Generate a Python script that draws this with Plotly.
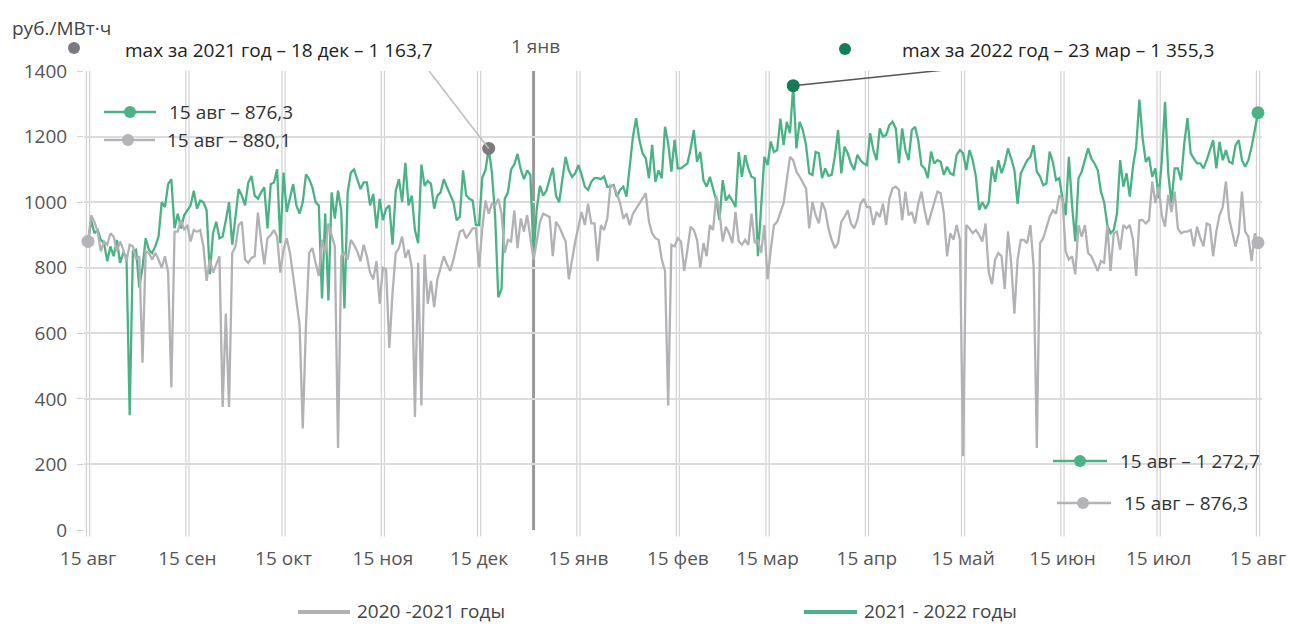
import plotly.graph_objects as go
import pandas as pd

# ---------------- data ----------------
start_date = "2021-08-15"
n_days = 366

# 2021-2022 (green), daily, 15 Aug 2021 .. 15 Aug 2022
green_1 = [876.3, 945, 905, 915, 885, 875, 820, 865, 835, 885, 815, 845, 835, 350, 850, 855, 740, 800, 890, 855,
           845, 865, 895, 1000, 985, 1055, 1070, 920, 965, 920, 960, 975, 990, 1035, 980, 1005, 1000, 975, 780, 905,
           940, 890, 895, 945, 1000]
green_2 = [870, 960, 1040, 1020, 990, 1060, 1080, 1020, 1010, 1030, 1045, 920, 1055, 1060, 1100, 875, 1090, 970, 1010,
           1055, 990, 965, 1000, 1085, 1070, 1045, 1000, 990, 706, 965, 700, 1030, 950, 1035, 975, 676, 1030, 1090,
           1100, 1070, 1040, 1060, 1060, 990, 1025, 920, 1010]
green_3 = [945, 980, 990, 870, 1035, 1070, 1000, 1120, 990, 1020, 915, 875, 1115, 1050, 1065, 1055, 980, 1020, 1030,
           1070, 1045, 1020, 1000, 945, 955, 1097, 1020, 1010, 1005, 930, 930, 1075, 1097, 1163.7, 1090, 960, 710, 735,
           1010, 1030, 1100, 1115, 1147, 1100, 1070, 1097]
green_4 = [1083, 840, 980, 1050, 1020, 1035, 1070, 1105, 1020, 1000, 1070, 1138, 1097, 1077, 1088, 1113, 1083, 1047,
           1037, 1062, 1073, 1073, 1070, 1078, 1047, 1047, 1052, 1017, 1037, 1047, 1017, 1108, 1200, 1256, 1190, 1149,
           1134, 1073, 1175, 1062, 1097, 1073, 1230, 1180, 1093, 1190, 1103]
green_5 = [1103, 1110, 1118, 1163, 1220, 1123, 1153, 1067, 1047, 1077, 1037, 1005, 945, 1067, 1005, 1020, 1005, 985,
           1153, 1077, 1143, 1103, 1077, 1073, 835, 1000, 1138, 1113, 1185, 1153, 1159, 1255, 1174, 1245, 1210, 1355.3,
           1164, 1245, 1220, 1174, 1088, 1083, 1153, 1149, 1073, 1103, 1080]
green_6 = [1083, 1140, 1220, 1088, 1169, 1149, 1118, 1098, 1144, 1128, 1118, 1113, 1210, 1159, 1128, 1225, 1200, 1205,
           1235, 1245, 1225, 1118, 1225, 1159, 1128, 1220, 1230, 1189, 1113, 1103, 1073, 1154, 1118, 1128, 1123, 1083,
           1108, 1088, 1083, 1144, 1159, 1149, 1098, 1159, 1128, 1078, 976]
green_7 = [1000, 980, 1000, 1108, 1062, 1128, 1088, 1118, 1164, 1133, 1098, 995, 1088, 1108, 1128, 1138, 1174, 1093,
           1078, 1052, 1057, 1154, 1123, 1067, 1073, 1012, 960, 1138, 990, 880, 1073, 1093, 1128, 1164, 1133, 1118,
           1098, 1032, 1000, 930, 905, 915, 965, 1128, 1047, 1088, 1017]
green_8 = [1108, 1169, 1313, 1195, 1123, 1138, 1077, 1103, 1012, 1128, 1306, 1088, 997, 1103, 1103, 1067, 1179, 1256,
           1149, 1133, 1118, 1118, 1103, 1128, 1159, 1189, 1103, 1184, 1128, 1159, 1123, 1118, 1174, 1189, 1128, 1108,
           1128, 1169, 1220, 1272.7]

# 2020-2021 (grey), daily, 15 Aug 2020 .. 15 Aug 2021
gray_1 = [880.1, 960, 940, 910, 850, 880, 870, 905, 895, 850, 880, 855, 820, 870, 865, 825, 835, 510, 850, 845, 825,
          845, 825, 800, 835, 785, 435, 910, 910, 945, 915, 930, 880, 915, 910, 915, 865, 760, 825, 785, 810, 835, 375,
          660, 375]
gray_2 = [845, 865, 930, 940, 825, 815, 830, 835, 968, 885, 810, 890, 900, 915, 895, 785, 855, 890, 845, 775, 705, 625,
          310, 625, 845, 860, 815, 775, 885, 845, 935, 900, 865, 250, 835, 845, 825, 885, 870, 850, 820, 870, 835, 785,
          765, 820, 690]
gray_3 = [800, 795, 555, 722, 845, 860, 895, 830, 855, 800, 345, 815, 380, 840, 690, 760, 680, 765, 800, 835, 810, 790,
          825, 870, 910, 915, 890, 905, 920, 920, 800, 920, 1005, 965, 995, 990, 1010, 965, 845, 885, 880, 975, 860,
          950, 910, 960]
gray_4 = [885, 825, 880, 940, 965, 960, 955, 835, 940, 925, 900, 880, 765, 825, 880, 925, 970, 930, 995, 935, 935, 820,
          930, 915, 950, 1052, 1047, 1027, 997, 950, 965, 930, 965, 980, 997, 1012, 1027, 940, 905, 890, 885, 825, 790,
          380, 870, 865, 890]
gray_5 = [880, 790, 855, 925, 915, 885, 800, 875, 835, 930, 915, 1020, 970, 880, 925, 905, 875, 970, 880, 870, 885, 870,
          965, 875, 885, 845, 930, 765, 855, 930, 940, 970, 997, 1068, 1138, 1128, 1093, 1078, 1062, 1042, 920, 1000,
          960, 935, 1000, 975, 920]
gray_6 = [885, 860, 875, 940, 955, 975, 935, 920, 945, 995, 1010, 985, 985, 930, 970, 955, 995, 930, 1010, 1042, 1047,
          1037, 945, 1032, 960, 970, 935, 995, 1032, 975, 930, 965, 995, 1032, 1027, 965, 835, 905, 885, 930, 885, 225,
          930, 920, 905, 915, 900]
gray_7 = [880, 935, 785, 750, 825, 845, 835, 735, 910, 815, 660, 825, 885, 885, 875, 930, 805, 250, 875, 890, 925, 955,
          975, 965, 1020, 1010, 850, 825, 835, 780, 930, 895, 930, 845, 835, 815, 790, 820, 815, 930, 790, 905, 910,
          855, 930, 920, 930]
gray_8 = [885, 775, 945, 945, 935, 945, 1063, 997, 1047, 960, 925, 1022, 970, 1032, 920, 905, 910, 910, 915, 865, 925,
          890, 865, 935, 930, 835, 910, 960, 985, 1063, 950, 910, 865, 905, 1032, 910, 895, 820, 905, 876.3]

tick_dates = ["2021-08-15", "2021-09-15", "2021-10-15", "2021-11-15", "2021-12-15", "2022-01-15", "2022-02-15",
              "2022-03-15", "2022-04-15", "2022-05-15", "2022-06-15", "2022-07-15", "2022-08-15"]
tick_labels = ["15 авг", "15 сен", "15 окт", "15 ноя", "15 дек", "15 янв", "15 фев", "15 мар", "15 апр", "15 май",
               "15 июн", "15 июл", "15 авг"]
y_ticks = [0, 200, 400, 600, 800, 1000, 1200, 1400]

new_year_date = "2022-01-01"
max2021_date, max2021_val = "2021-12-18", 1163.7
max2022_date, max2022_val = "2022-03-23", 1355.3

green = green_1 + green_2 + green_3 + green_4 + green_5 + green_6 + green_7 + green_8
gray = gray_1 + gray_2 + gray_3 + gray_4 + gray_5 + gray_6 + gray_7 + gray_8
assert len(green) == n_days, len(green)
assert len(gray) == n_days, len(gray)
dates = pd.date_range(start_date, periods=n_days, freq="D")

# ---------------- style ----------------
GREEN = "#4ab285"
GRAY = "#b2b2b6"
DOT_GRAY = "#b4b4b8"
DARK_GRAY = "#7b7b7f"
DARK_GREEN = "#137d5b"
GRID = "#dcdcdc"
FONT = "Open Sans"
TXT = "#333333"
TICK_TXT = "#555555"

W, H = 1290, 624
L, R, T, B = 84, 1262, 71, 530


def px(x):
    return (x - L) / (R - L)


def py(y):
    return (B - y) / (B - T)


fig = go.Figure()
fig.add_trace(go.Scatter(x=dates, y=green, mode="lines", line=dict(color=GREEN, width=2.3),
                         name="2021 - 2022 годы", showlegend=False, hoverinfo="x+y"))
fig.add_trace(go.Scatter(x=dates, y=gray, mode="lines", line=dict(color=GRAY, width=2.3),
                         name="2020 -2021 годы", showlegend=False, hoverinfo="x+y"))
# end-point markers
fig.add_trace(go.Scatter(x=[dates[0], dates[-1]], y=[gray[0], gray[-1]], mode="markers",
                         marker=dict(color=DOT_GRAY, size=13), cliponaxis=False, showlegend=False))
fig.add_trace(go.Scatter(x=[dates[-1]], y=[green[-1]], mode="markers",
                         marker=dict(color=GREEN, size=13), cliponaxis=False, showlegend=False))
# max markers
fig.add_trace(go.Scatter(x=[max2021_date], y=[max2021_val], mode="markers",
                         marker=dict(color=DARK_GRAY, size=13), cliponaxis=False, showlegend=False))
fig.add_trace(go.Scatter(x=[max2022_date], y=[max2022_val], mode="markers",
                         marker=dict(color=DARK_GREEN, size=13), cliponaxis=False, showlegend=False))

shapes = []
half = pd.Timedelta(hours=12)
for t in tick_dates:
    tt = pd.Timestamp(t)
    for xx in (tt - half, tt + half):
        shapes.append(dict(type="line", xref="x", yref="paper", x0=xx, x1=xx, y0=-0.014, y1=1,
                           line=dict(color="#d2d2d2", width=1.2), layer="below"))
# 1 Jan line
shapes.append(dict(type="line", xref="x", yref="paper", x0=new_year_date, x1=new_year_date, y0=0, y1=1,
                   line=dict(color="#98989c", width=3), layer="below"))

# leader lines
shapes.append(dict(type="line", xref="x", yref="y", xsizemode="pixel", ysizemode="pixel",
                   xanchor=max2021_date, yanchor=max2021_val, x0=0, y0=0, x1=-77, y1=100,
                   line=dict(color="#bdbdbd", width=1.5)))
shapes.append(dict(type="line", xref="x", yref="y", xsizemode="pixel", ysizemode="pixel",
                   xanchor=max2021_date, yanchor=max2021_val, x0=-77, y0=100, x1=-94, y1=100,
                   line=dict(color="#bdbdbd", width=1.5)))
shapes.append(dict(type="line", xref="x", yref="y", xsizemode="pixel", ysizemode="pixel",
                   xanchor=max2022_date, yanchor=max2022_val, x0=0, y0=0, x1=193, y1=20,
                   line=dict(color="#555555", width=1.5)))


def dot(cx, cy, color, r=6):
    return dict(type="circle", xref="paper", yref="paper", xsizemode="pixel", ysizemode="pixel",
                xanchor=px(cx), yanchor=py(cy), x0=-r, x1=r, y0=-r, y1=r,
                fillcolor=color, line=dict(width=0))


def hline(xa, xb, y, color, w=2.5):
    return dict(type="line", xref="paper", yref="paper", x0=px(xa), x1=px(xb), y0=py(y), y1=py(y),
                line=dict(color=color, width=w))


# title dots
shapes.append(dot(74, 48, DARK_GRAY))
shapes.append(dot(845, 49, DARK_GREEN))
# inline legend symbols (top-left)
shapes += [hline(104, 156, 112, GREEN), dot(130, 112, GREEN)]
shapes += [hline(104, 155, 140, DOT_GRAY), dot(128, 140, DOT_GRAY)]
# inline legend symbols (bottom-right)
shapes += [hline(1053, 1107, 461, GREEN), dot(1080, 461, GREEN)]
shapes += [hline(1057, 1111, 503, DOT_GRAY), dot(1083, 503, DOT_GRAY)]
# bottom legend
shapes.append(hline(298, 350, 612, GRAY, 4))
shapes.append(hline(804, 857, 612, GREEN, 4))


def label(x, y, text, size=19, color=TXT, anchor="left"):
    return dict(xref="paper", yref="paper", x=px(x), y=py(y), text=text, showarrow=False,
                xanchor=anchor, yanchor="middle", font=dict(family=FONT, size=size, color=color))


annotations = [
    label(10, 28, "руб./МВт·ч", color="#444444"),
    label(123, 50, "max за 2021 год – 18 дек – 1 163,7", color="#222222"),
    label(535, 46, "1 янв", color="#555555", anchor="center"),
    label(900, 50, "max за 2022 год – 23 мар – 1 355,3", color="#222222"),
    label(167, 112, "15 авг – 876,3"),
    label(165, 140, "15 авг – 880,1"),
    label(1118, 461, "15 авг – 1 272,7"),
    label(1122, 503, "15 авг – 876,3"),
    label(355, 611, "2020 -2021 годы", color="#444444"),
    label(862, 611, "2021 - 2022 годы", color="#444444"),
]

pad = pd.Timedelta(hours=30)
fig.update_layout(
    width=W, height=H,
    margin=dict(l=L, r=W - R, t=T, b=H - B, pad=0, autoexpand=False),
    paper_bgcolor="white", plot_bgcolor="white",
    font=dict(family=FONT, size=19, color=TICK_TXT),
    showlegend=False,
    shapes=shapes,
    annotations=annotations,
    xaxis=dict(type="date", range=[dates[0] - pad, dates[-1] + pad], tickmode="array", automargin=False,
               tickvals=tick_dates, ticktext=tick_labels, showgrid=False, zeroline=False, showline=False,
               ticks="", ticklabelstandoff=15, tickfont=dict(family=FONT, size=19, color=TICK_TXT)),
    yaxis=dict(range=[0, 1400], tickmode="array", tickvals=y_ticks, showgrid=True, gridcolor=GRID,
               automargin=False, gridwidth=1.5, zeroline=False, showline=False, ticks="outside", ticklen=6,
               tickcolor="#d0d0d0", ticklabelstandoff=6,
               tickfont=dict(family=FONT, size=19, color=TICK_TXT)),
)

fig.write_html("out.html", config={"displayModeBar": False},
               post_script="document.body.style.margin='0';document.body.style.overflow='hidden';")
